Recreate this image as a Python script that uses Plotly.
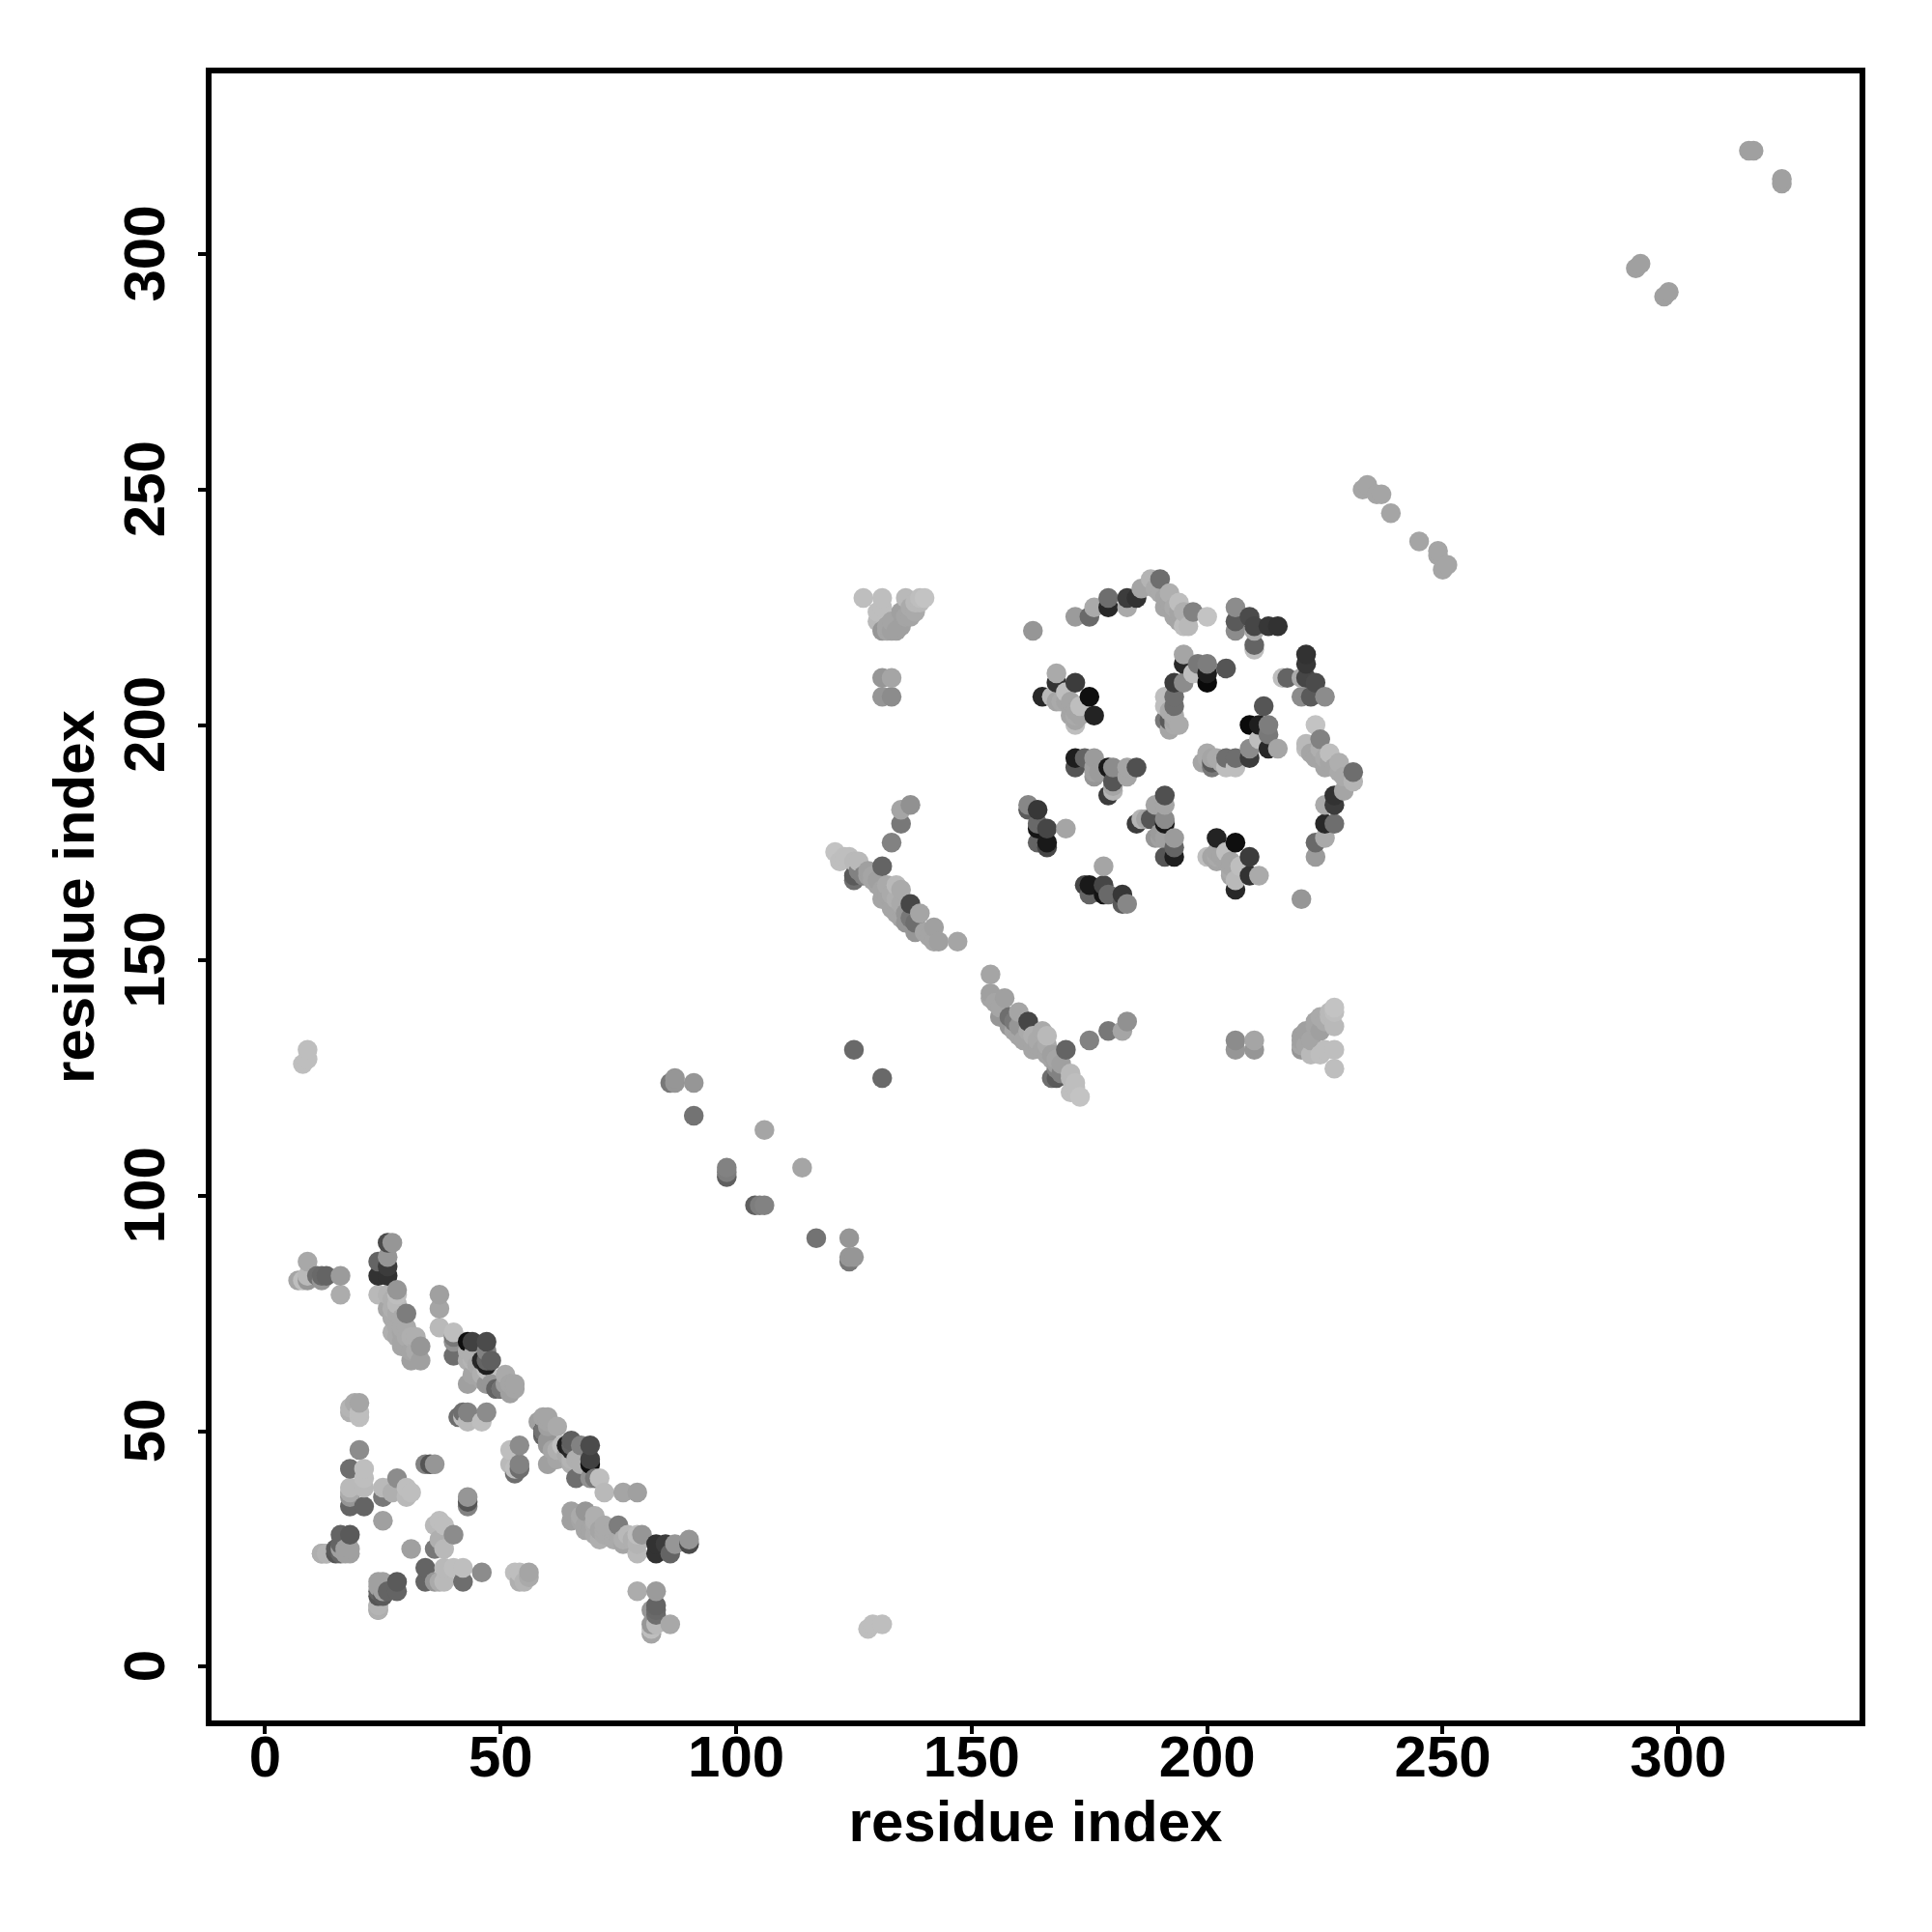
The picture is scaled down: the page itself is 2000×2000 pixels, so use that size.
import plotly.graph_objects as go

# contacts: (residue i, residue j, grey level); the map is symmetric
n_terminal_a = [(9,86,168),(7,82,165),(9,82,150),(8,82,190),(12,82,150),(11,83,110),(12,83,105),(13,83,100),(9,83,185),
 (16,83,155),(16,79,172),
 (26,90,75),(27,90,150),(24,86,100),(26,87,150),(26,85,60),(24,83,50),(26,83,50),(24,79,185),(26,79,180),
 (28,80,150),(28,79,190),(27,78,175),(26,76,165),(28,75,170),(30,75,125),(27,71,175),(28,70,170),(29,69,165),
 (29,68,165),(32,70,175),(33,68,150),(31,65,160),(33,65,160),(28,72,170),(29,72,170),(29,71,165),(30,70,170),(30,68,165),(31,67,165),(32,67,170),
 (27,74,170),(28,77,185),(27,76,175),(29,74,170),(30,72,170),(31,70,175)]
n_terminal_b = [(37,79,160),(37,76,165),(37,72,185),(40,66,110),(40,70,120),(40,69,145),(40,71,190),(43,69,15),(44,69,65),
 (47,69,75),(47,67,130),(47,65,100),(44,65,180),(43,65,175),(46,65,40),(48,65,95),(43,60,160),(44,62,165),(47,60,150),
 (49,59,100),(51,62,170),(50,59,115),(52,58,160),(53,59,165),(48,60,150),(50,59,50),(52,60,165),(47,63,190),(47,64,30),
 (43,67,175),(44,66,175),(45,64,170),(46,62,175),(46,61,165),(51,60,160),(52,60,160),(53,60,165)]
n_terminal_c = [(20,46,140),(18,42,110),(21,42,190),(18,38,185),(21,40,190),(21,38,185),(18,37,170),(18,36,150),(18,34,100),(21,34,100),
 (25,38,185),(25,36,120),(28,40,140),(27,37,175),(30,36,185),(30,38,190),(31,37,190),(25,31,160),
 (18,55,180),(18,54,175),(20,53,190),(20,54,190),(19,56,170),(20,56,165),
 (34,43,130),(35,43,85),(36,43,150),(41,53,110),(42,54,110),(42,53,190),(47,54,140),(46,52,190),(43,54,130),(43,52,185),
 (16,28,100),(15,25,90),(12,24,175),(13,24,180),(15,24,85),(16,24,100),(18,25,160),(18,24,160),
 (12,24,170),(16,26,100),(18,28,90),(13,24,170),(17,24,160),(16,25,160),(17,25,160)]
strand_upper = [(121,173,195),(122,171,190),(123,172,190),(125,171,185),(125,167,110),(125,168,90),(131,170,100),(126,169,130),
 (128,169,160),(129,167,165),(132,166,170),(134,166,185),(135,165,170),(131,163,165),(133,161,165),(137,162,70),
 (136,160,150),(139,160,165),(138,158,110),(136,158,150),(138,156,150),(142,157,160),(143,154,160),(142,154,165),(147,154,165),
 (137,183,145),(135,182,165),(135,179,120),(133,175,130),(124,172,190),(126,171,185),(127,168,130),(128,168,160),(129,168,165),(130,167,160),
 (130,166,165),(131,165,165),(132,164,165),(133,164,170),(134,163,175),(135,162,170),(134,160,165),(135,159,165),(137,159,120),(141,155,165),(140,156,165)]
loop_corner = [(127,227,190),(131,227,190),(130,224,190),(131,220,150),(132,220,165),(134,220,160),(133,222,165),(135,224,160),
 (137,225,170),(136,227,185),(139,226,185),(140,227,195),(131,210,150),(133,210,165),(131,206,150),(133,206,140),
 (131,225,190),(130,222,185),(132,221,165),(133,220,160),(135,221,160),(136,223,165),(137,223,165),(138,226,185),(139,227,190),(138,224,170)]
arc_top = [(163,220,150),(172,223,155),(175,223,105),(176,225,170),(179,225,40),(179,227,110),(183,225,170),(183,227,60),(185,227,50),
 (186,229,165),(188,231,180),(190,231,110),(189,229,170),(192,228,175),(191,225,165),(194,226,190),(193,223,165),(195,224,175),
 (197,224,130),(200,223,195),(195,221,190),(196,221,185),(190,228,170),(191,227,165),(192,226,165),(193,225,170),(194,224,165),(194,222,165),
 (206,225,140),(206,222,90),(206,220,140),(209,223,75),(210,221,70),(213,221,55),(215,221,50),(210,216,190),(210,217,100),(210,220,170)]
core_centre = [(191,206,190),(191,204,190),(191,201,120),(192,199,165),(192,201,90),(194,200,170),(193,201,165),(193,206,110),(193,204,110),
 (195,213,40),(193,209,60),(195,215,165),(195,209,140),(198,213,120),(200,211,30),(200,213,125),(204,212,85),(200,209,10),(197,211,190),
 (192,203,170),(193,202,170),(193,200,170)]
core_left = [(168,209,50),(168,211,170),(172,209,60),(165,206,40),(175,206,15),(167,206,185),(170,207,190),(168,205,165),(171,205,165),
 (173,204,190),(176,202,35),(171,202,165),(172,200,190),(169,205,170),(170,205,165),(171,204,165),(172,203,165),(172,202,170),(172,201,165),(173,202,165)]
core_lower = [(172,193,30),(172,191,85),(174,193,100),(176,193,155),(176,190,160),(176,189,150),(179,191,25),(180,191,140),(183,191,165),
 (183,189,165),(185,191,80),(179,185,60),(180,186,180),(180,187,165),(180,188,85),(176,191,160),(177,190,155),
 (162,183,135),(162,182,90),(164,182,55),(164,178,20),(164,179,105),(166,178,70),(170,178,165),(164,175,100),(166,174,70),(166,175,25)]
far_points = [(8,128,190),(9,129,190),(9,131,190),(125,131,105),(86,124,120),(87,125,150),(87,124,150),(91,124,150),(91,117,115),(106,114,165),
 (98,104,95),(98,105,125),(98,106,130),(233,250,165),(234,251,165),(236,249,165),(237,249,165),(239,245,165),
 (291,297,160),(292,298,160),(315,322,160),(316,322,160)]

contact_groups = [n_terminal_a, n_terminal_b, n_terminal_c, strand_upper, loop_corner, arc_top,
                  core_centre, core_left, core_lower, far_points]
contacts = [c for g in contact_groups for c in g]

# both triangles of the map, drawn in residue order so later residues overlap earlier ones
points = sorted([(i, j, g) for i, j, g in contacts] + [(j, i, g) for i, j, g in contacts])
xs = [p[0] for p in points]
ys = [p[1] for p in points]
cols = [f"rgb({p[2]},{p[2]},{p[2]})" for p in points]

tick_vals = [0, 50, 100, 150, 200, 250, 300]
axis_label = "residue index"
FONT = "Liberation Sans"

fig = go.Figure(go.Scatter(x=xs, y=ys, mode="markers",
                           marker=dict(size=20.5, color=cols, line=dict(width=0)), showlegend=False))

axis = dict(showgrid=False, zeroline=False, showline=True, mirror=True, linecolor="black", linewidth=6,
            ticks="outside", ticklen=8, tickwidth=4, tickcolor="black",
            tickvals=tick_vals,
            tickfont=dict(family=FONT, size=60, color="black", weight="bold"))
title_font = dict(family=FONT, size=60, color="black", weight="bold")
fig.update_xaxes(**axis, range=[-11.38, 338.5], ticklabelstandoff=-28, ticktext=[str(t) for t in tick_vals],
                 title=dict(text=axis_label, standoff=15, font=title_font))
fig.update_yaxes(**axis, range=[-11.44, 338.4], tickangle=-90, ticklabelstandoff=11,
                 ticktext=[str(t) + "\u00a0" for t in tick_vals],
                 title=dict(text=axis_label, standoff=1, font=title_font))
fig.update_layout(width=1980, height=1980, paper_bgcolor="white", plot_bgcolor="white",
                  margin=dict(l=211, r=63, t=67.5, b=206.5, autoexpand=False))
fig.write_html("out.html")
